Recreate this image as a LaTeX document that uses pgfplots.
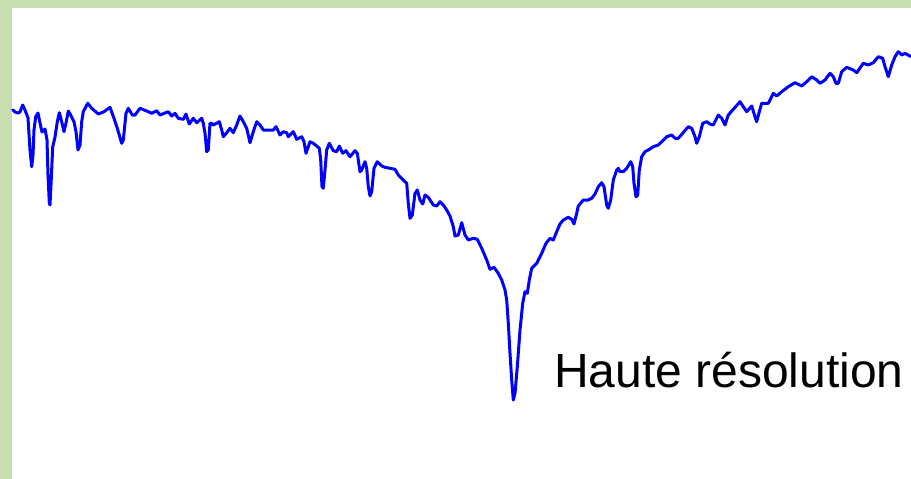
\documentclass[border=0pt]{standalone}
\usepackage{pgfplots}
\pgfplotsset{compat=1.18}
\usepackage{fontspec}
\setmainfont{Liberation Sans}
\definecolor{bordergreen}{RGB}{200,221,176}
\definecolor{specblue}{RGB}{0,0,255}
\begin{document}
\begin{tikzpicture}
\begin{axis}[x=1pt, y=1pt, y dir=reverse, xmin=0, xmax=911, ymin=0, ymax=479,
  hide axis, clip=true]
\fill[white] (axis cs:0,0) rectangle (axis cs:911,479);
\fill[bordergreen] (axis cs:0,0) rectangle (axis cs:911,8);
\fill[bordergreen] (axis cs:0,0) rectangle (axis cs:12,479);
\addplot[specblue, line width=3pt, line join=round, no markers] coordinates {
(12,110.7)(13,110)(15,112)(18,113)(20,112)(22.7,105)(25,110)(28,118)(30,150)(31.7,166.7)(33,155)(34,130)(35.7,116.7)(38,113)(40,123)(42,132)(45,129)(47,140)(48,175)(49.3,203)(50,205)(51,185)(52.7,147)(55,137)(57.3,121.7)(59.3,112.7)(61.7,121.7)(64,131.7)(66,123)(68.3,111)(70.7,115)(74,121.7)(76,131.7)(78,150)(80,145)(81.7,121.7)(83.3,111.7)(87.7,103.3)(91.7,108.3)(98.3,114)(104,111.7)(110,107.3)(114,118.3)(117.3,128.3)(121.7,143.3)(123.3,140)(126,113.3)(128.3,108.3)(132.3,115)(135,115)(140,108.3)(148.3,111.7)(151.7,113.3)(156.7,110.7)(160,115)(168.3,111.7)(171.7,116)(175,113.3)(178.3,118.3)(183.3,119.3)(186,114)(189.3,124)(193.3,118.3)(196.7,122.7)(201.7,118.3)(203.3,123.3)(205,133.3)(206.7,151.7)(208.3,150)(210,123.3)(211.7,123.3)(213.3,125)(216.7,123.3)(219.3,121.7)(221.7,130)(223.3,136.7)(226.7,132.7)(230,128.3)(233.3,132.7)(236.7,125)(240,116)(243.3,121.7)(246.7,128.3)(250,142.7)(253.3,131.7)(256.7,121.7)(260,125)(263.3,130)(273.3,130)(276,126.7)(280,135)(283.3,131.7)(286.7,132.7)(288.3,136.7)(293.3,131.7)(296.7,139.3)(301.7,136.7)(304,141.7)(306,153.3)(308.3,146.7)(310,141.7)(313.3,143.3)(316.7,146)(319.3,148.3)(320.7,160)(322,186.7)(323.3,188.3)(325,170)(326.7,150)(329.3,143.3)(333.3,150.7)(336.7,151.7)(339.3,146)(342.7,153.3)(346,150.7)(350,156.7)(355,150.7)(357.3,153.3)(360,171.7)(361.7,170)(365,161.7)(366.7,168.3)(368.3,186.7)(370,196)(371.7,191.7)(374,168.3)(377.3,161.7)(381.7,166)(385,167.3)(390,168.3)(395,169.3)(398.3,175)(403.3,180)(406.7,183.3)(408.3,203.3)(410,218.3)(412.3,215)(415,193.3)(417.3,190)(420,200)(422.7,204)(425,195)(428.3,197.3)(433.3,205)(436.7,206)(440,201.7)(443.3,205)(446.7,210)(450,216)(453.3,226.7)(455,236)(458.3,235)(461.7,222.7)(465,235)(468.3,240)(473.3,238.3)(477.3,239.3)(481.7,248.3)(486.7,260)(490,269.3)(494,267.3)(498.3,273.3)(501.7,280)(505,290)(506.7,300)(508.3,323.3)(510,353.3)(511.7,380)(513.3,400)(515,393.3)(517.3,366.7)(520,330)(522.7,303.3)(525,291.7)(527.3,293.3)(529.3,280)(531.7,268.3)(536.7,263.3)(541.7,253.3)(546,243.3)(550,238.3)(553.3,240)(556.7,231.7)(560,224)(563.3,220)(568.3,217.3)(571.7,219.3)(574,224)(576.7,213.3)(578.3,206)(583.3,200)(588.3,200)(591.7,198.3)(595,194)(598.3,186.7)(601.7,182.7)(604,186.7)(606.7,205)(608.3,208.3)(610.7,200)(613.3,180)(616.7,170)(618.3,168.3)(620,171.7)(623.3,171.7)(626.7,168.3)(630.7,161.7)(632.7,166.7)(634,183.3)(636,196.7)(637.7,195)(639.3,170)(641.7,156.7)(645,151.7)(648.3,150)(653.3,146.7)(658.3,145)(661.7,141.7)(666.7,136.7)(671.7,135)(675,138.3)(678.3,138.3)(684,131.7)(688.3,126.7)(691.7,128.3)(695,136.7)(696.7,143.3)(699.3,136.7)(702.7,123.3)(706.7,121.7)(710,124)(713.3,125)(718.3,115)(721.7,118.3)(725,125)(728.3,115)(733.3,109.3)(740,101.7)(743.3,106.7)(746.7,111.7)(751.7,106)(755,116.7)(756.7,121.7)(759.3,111.7)(761.7,103.3)(768.3,103.3)(773.3,93.3)(776.7,96)(781.7,91.7)(788.3,86.7)(795,82.7)(801.7,86)(806.7,81.7)(811.7,76.7)(816.7,80)(820,83.3)(825,80)(830,73.3)(833.3,76.7)(836,83.3)(838.3,83.3)(841.7,71.7)(846.7,67.3)(853.3,70)(856.7,72.7)(863.3,63.3)(868.3,65)(873.3,62.7)(878.3,56.7)(882.7,58.3)(885,66.7)(888.3,76.7)(891.7,65)(895,56.7)(898.3,51.7)(901.7,55)(905,53.3)(911,56.7)
};
\node[anchor=base west, inner sep=0pt, text=black, font=\fontsize{48}{56}\selectfont] at (axis cs:554,387) {Haute résolution};
\end{axis}
\end{tikzpicture}
\end{document}
